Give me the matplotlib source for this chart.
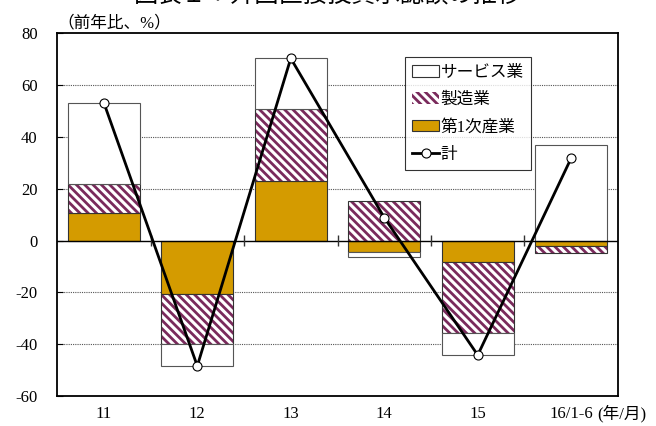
import matplotlib
matplotlib.use("Agg")
import matplotlib.pyplot as plt
from matplotlib.patches import Patch
from matplotlib.lines import Line2D
import numpy as np

plt.rcParams['font.family'] = ['Liberation Serif', 'Noto Sans CJK JP', 'DejaVu Sans']
plt.rcParams['hatch.linewidth'] = 2.0
plt.rcParams['axes.unicode_minus'] = False

categories = ["11", "12", "13", "14", "15", "16/1-6"]
primary = [10.5, -20.6, 23.1, -4.2, -8.4, -2.1]
manufacturing = [11.4, -19.5, 27.6, 15.3, -27.4, -2.8]
services = [31.4, -8.3, 19.7, -2.2, -8.4, 36.9]
total = [53.3, -48.4, 70.4, 8.9, -44.2, 31.9]

orange = '#D49B00'
purple = '#7A2A5C'

fig = plt.figure(figsize=(6.56, 4.26), dpi=100)
ax = fig.add_axes([0.087, 0.0704, 0.855, 0.851])

x = np.arange(len(categories))
w = 0.77
pos_base = np.zeros(len(x))
neg_base = np.zeros(len(x))


def stack(vals):
    vals = np.array(vals)
    bottom = np.where(vals >= 0, pos_base, neg_base)
    pos_base[:] += np.where(vals >= 0, vals, 0)
    neg_base[:] += np.where(vals < 0, vals, 0)
    return vals, bottom


v, b = stack(primary)
ax.bar(x, v, w, bottom=b, color=orange, edgecolor='#333333', linewidth=0.8, zorder=2)
v, b = stack(manufacturing)
ax.bar(x, v, w, bottom=b, color='white', edgecolor=purple, hatch='\\\\\\\\', linewidth=0, zorder=2)
ax.bar(x, v, w, bottom=b, color='none', edgecolor='#333333', linewidth=0.8, zorder=2)
v, b = stack(services)
ax.bar(x, v, w, bottom=b, color='white', edgecolor='#555555', linewidth=0.8, zorder=2)

ax.plot(x, total, color='black', lw=2, marker='o', ms=6.5, mfc='white', mec='black', mew=0.8, zorder=4)

ax.axhline(0, color='black', lw=1, zorder=3)
ax.vlines(x[:-1] + 0.5, -2, 2, color='#333333', lw=1, zorder=3)

ax.set_xlim(-0.5, len(x) - 0.5)
ax.set_ylim(-60, 80)
ax.set_yticks(np.arange(-60, 81, 20))
for yv in [-40, -20, 20, 40, 60]:
    ax.axhline(yv, color='#555555', lw=0.8, ls=(0, (1, 1)), zorder=1)
ax.set_xticks(x)
ax.set_xticklabels(categories)
ax.tick_params(axis='x', length=0, pad=7, labelsize=12)
ax.tick_params(axis='y', direction='in', length=4, labelsize=12, pad=14)
for s in ax.spines.values():
    s.set_linewidth(1.3)

ax.text(0.0, 1.006, '（前年比、%）', transform=ax.transAxes, fontsize=12, ha='left', va='bottom')
ax.annotate('(年/月)', xy=(x[-1], -60), xycoords='data', xytext=(19, -12.5),
            textcoords='offset points', fontsize=12, ha='left', va='center',
            annotation_clip=False)

fig.text(0.5, 1 - 9 / 426, '図表１：外国直接投資承認額の推移', ha='center', va='bottom',
         fontsize=17.5, family=['Noto Sans CJK JP'])

handles = [
    Patch(facecolor='white', edgecolor='#333333', lw=0.8),
    Patch(facecolor='white', edgecolor=purple, hatch='\\\\\\\\', lw=0),
    Patch(facecolor=orange, edgecolor='#333333', lw=0.8),
    Line2D([], [], color='black', lw=2, marker='o', ms=6.5, mfc='white', mec='black', mew=0.8),
]
labels = ['サービス業', '製造業', '第1次産業', '計']
leg = ax.legend(handles, labels, loc='upper left', bbox_to_anchor=(0.62, 0.935), fontsize=12,
                frameon=True, fancybox=False, edgecolor='black', handlelength=1.6,
                handletextpad=0.1, labelspacing=0.68, borderpad=0.45, borderaxespad=0)
leg.get_frame().set_linewidth(0.8)

fig.savefig('out.png', dpi=100)
